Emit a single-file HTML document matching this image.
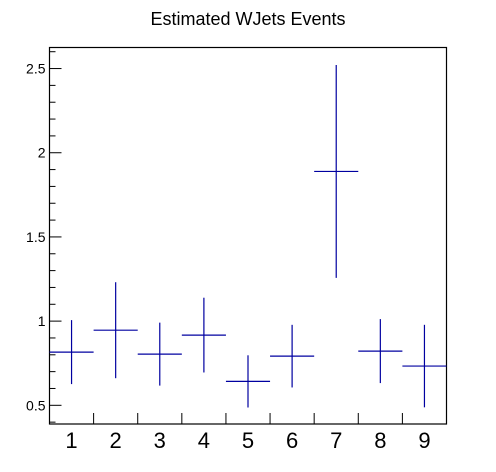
<!DOCTYPE html>
<html><head><meta charset="utf-8"><style>
html,body{margin:0;padding:0;background:#fff;}
svg{display:block;font-family:"Liberation Sans",Arial,sans-serif;}
</style></head><body>
<svg id="chart" width="496" height="472">
<text x="248" y="25" text-anchor="middle" font-size="18">Estimated WJets Events</text>
<rect x="49.5" y="47.5" width="397" height="376.5" fill="none" stroke="#000" stroke-width="1.2"/>
<g id="axes"></g>
<g id="marks"></g>
</svg>
<script>
const categories = ["1","2","3","4","5","6","7","8","9"];
const values = [0.816, 0.946, 0.804, 0.917, 0.642, 0.792, 1.889, 0.822, 0.733];
const errors = [0.19, 0.285, 0.187, 0.222, 0.155, 0.186, 0.632, 0.19, 0.245];
const yTicks = [0.5, 1, 1.5, 2, 2.5];
const yTickLabels = ["0.5", "1", "1.5", "2", "2.5"];

const X0 = 49.5, X1 = 446.5, Y0 = 424, Y1 = 47.5;
const yMin = 0.389, yMax = 2.625;
const NS = "http://www.w3.org/2000/svg";
function xScale(i){ return X0 + (X1 - X0) * i / categories.length; }
function yScale(v){ return Y0 - (v - yMin) / (yMax - yMin) * (Y0 - Y1); }
function mk(tag, attrs, parent){
  const e = document.createElementNS(NS, tag);
  for (const k in attrs) e.setAttribute(k, attrs[k]);
  parent.appendChild(e); return e;
}
const axes = document.getElementById('axes');
const marks = document.getElementById('marks');

for (let v = Math.ceil(yMin*10)/10; v <= yMax + 1e-9; v += 0.1) {
  const y = yScale(v);
  const major = Math.abs(v*2 - Math.round(v*2)) < 1e-6;
  const t = mk('line', {x1: X0, x2: X0 + (major ? 12 : 6), y1: y, y2: y, stroke: '#000', 'stroke-width': 1}, axes);
  
  
}
yTicks.forEach((v, i) => {
  const t = mk('text', {x: X0 - 4, y: yScale(v) + 5, 'text-anchor': 'end', 'font-size': 14}, axes);
  t.textContent = yTickLabels[i];
  
  
});
for (let i = 1; i < categories.length; i++) {
  const t = mk('line', {x1: xScale(i), x2: xScale(i), y1: Y0, y2: Y0 - 11, stroke: '#000', 'stroke-width': 1}, axes);
  
  
}
categories.forEach((c, i) => {
  const t = mk('text', {x: (xScale(i) + xScale(i+1)) / 2, y: 448, 'text-anchor': 'middle', 'font-size': 22}, axes);
  t.textContent = c;
  
  
});
values.forEach((v, i) => {
  const g = mk('g', {stroke: '#0000a0', 'stroke-width': 1.2}, marks);
  
  
  const xc = (xScale(i) + xScale(i+1)) / 2;
  const h = mk('line', {x1: xScale(i), x2: xScale(i+1), y1: yScale(v), y2: yScale(v)}, g);
  
  
  const e = mk('line', {x1: xc, x2: xc, y1: yScale(v + errors[i]), y2: yScale(v - errors[i])}, g);
  
  
});
</script>
</body></html>
